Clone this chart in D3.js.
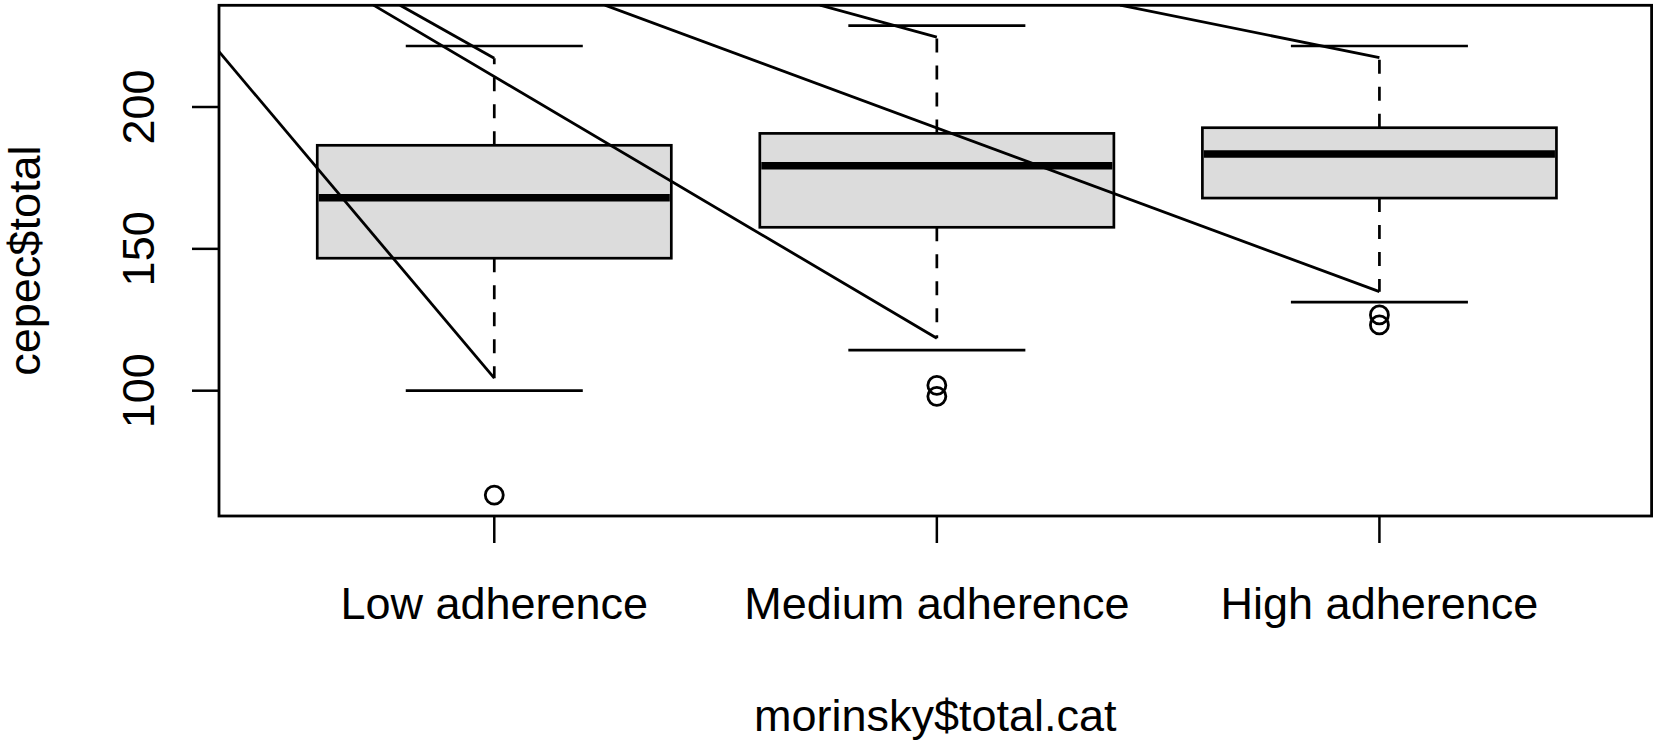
<!DOCTYPE html>
<html lang="en">
<head>
  <meta charset="utf-8" />
  <title>cepec$total by morinsky$total.cat</title>
  <script src="https://d3js.org/d3.v7.min.js"></script>
  <style>
    * { margin: 0; padding: 0; box-sizing: border-box; }
    html, body { background: #fff; width: 1658px; height: 746px; overflow: hidden; }
    svg text { font-family: "Liberation Sans", Arial, Helvetica, sans-serif; font-size: 45px; fill: #000; }
    .frame { fill: none; stroke: #000; stroke-width: 2.8px; }
    .box { fill: #dcdcdc; stroke: #000; stroke-width: 2.7px; }
    .median { stroke: #000; stroke-width: 7.5px; }
    .whisker { stroke: #000; stroke-width: 2.7px; stroke-dasharray: 14 13; }
    .cap { stroke: #000; stroke-width: 2.7px; }
    .outlier { fill: none; stroke: #000; stroke-width: 2.8px; }
    .guide { fill: none; stroke: #000; stroke-width: 2.8px; }
    .tick { stroke: #000; stroke-width: 2.5px; }
  </style>
</head>
<body>
  <svg id="chart" width="1658" height="746"></svg>
  <script>
    // values
    const categories = ["Low adherence", "Medium adherence", "High adherence"];
    const q1 = [146.7, 157.6, 167.9];
    const median = [168.0, 179.3, 183.4];
    const q3 = [186.5, 190.7, 192.7];
    const capLow = [100.0, 114.3, 131.2];
    const capHigh = [221.5, 228.7, 221.5];
    // dashed whiskers stop here, where the guide lines meet them
    const dashLow = [104.4, 118.5, 134.9];
    const dashHigh = [217.2, 224.6, 217.4];
    const outliers = [[63.2], [101.9, 98.0], [126.7, 123.2]];
    const yTicks = [100, 150, 200];

    // straight guide lines, [start, end] in (group position, value)
    const guides = [
      [[0.378, 219.5], [1, 104.4]],
      [[0.787, 235.9], [1, 217.2]],
      [[0.727, 235.9], [2, 118.5]],
      [[1.250, 235.9], [3, 134.9]],
      [[1.736, 235.9], [2, 224.6]],
      [[2.414, 235.9], [3, 217.4]]
    ];

    const m = { left: 219, right: 1651.6, top: 5.3, bottom: 516 };

    const x = d3.scaleLinear().domain([0.378, 3.615]).range([m.left, m.right]);
    const y = d3.scaleLinear().domain([55.83, 235.85]).range([m.bottom, m.top]);

    const svg = d3.select("#chart");

    svg.append("clipPath").attr("id", "plotclip")
      .append("rect")
      .attr("x", m.left).attr("y", m.top)
      .attr("width", m.right - m.left).attr("height", m.bottom - m.top);

    const plot = svg.append("g").attr("clip-path", "url(#plotclip)");

    const boxW = 0.8, capW = 0.4;
    const idx = categories.map((d, i) => i);

    // boxes
    plot.selectAll(".box").data(idx).join("rect")
      .attr("class", "box")
      .attr("x", i => x(i + 1 - boxW / 2))
      .attr("width", x(1 + boxW / 2) - x(1 - boxW / 2))
      .attr("y", i => y(q3[i]))
      .attr("height", i => y(q1[i]) - y(q3[i]));

    plot.selectAll(".median").data(idx).join("line")
      .attr("class", "median")
      .attr("x1", i => x(i + 1 - boxW / 2) + 1.5)
      .attr("x2", i => x(i + 1 + boxW / 2) - 1.5)
      .attr("y1", i => y(median[i]))
      .attr("y2", i => y(median[i]));

    // whiskers (dashed), drawn from the box edge outwards
    idx.forEach(i => {
      plot.append("line").attr("class", "whisker")
        .attr("x1", x(i + 1)).attr("x2", x(i + 1))
        .attr("y1", y(q1[i])).attr("y2", y(dashLow[i]));
      plot.append("line").attr("class", "whisker")
        .attr("x1", x(i + 1)).attr("x2", x(i + 1))
        .attr("y1", y(q3[i])).attr("y2", y(dashHigh[i]));
      [capLow[i], capHigh[i]].forEach(v => {
        plot.append("line").attr("class", "cap")
          .attr("x1", x(i + 1 - capW / 2)).attr("x2", x(i + 1 + capW / 2))
          .attr("y1", y(v)).attr("y2", y(v));
      });
      outliers[i].forEach(v => {
        plot.append("circle").attr("class", "outlier")
          .attr("cx", x(i + 1)).attr("cy", y(v)).attr("r", 9);
      });
    });

    // guide lines, clipped to the plot region
    plot.selectAll(".guide").data(guides).join("path")
      .attr("class", "guide")
      .attr("d", d3.line().x(d => x(d[0])).y(d => y(d[1])));

    // frame
    svg.append("rect").attr("class", "frame")
      .attr("x", m.left).attr("y", m.top)
      .attr("width", m.right - m.left).attr("height", m.bottom - m.top);

    // y axis
    const yAxis = svg.append("g");
    yAxis.selectAll("line").data(yTicks).join("line")
      .attr("class", "tick")
      .attr("x1", m.left - 27).attr("x2", m.left)
      .attr("y1", d => y(d)).attr("y2", d => y(d));
    yAxis.selectAll("text").data(yTicks).join("text")
      .attr("transform", d => `translate(154,${y(d)}) rotate(-90)`)
      .attr("text-anchor", "middle")
      .text(d => d);

    // x axis
    const xAxis = svg.append("g");
    xAxis.selectAll("line").data(idx).join("line")
      .attr("class", "tick")
      .attr("x1", i => x(i + 1)).attr("x2", i => x(i + 1))
      .attr("y1", m.bottom).attr("y2", m.bottom + 27);
    xAxis.selectAll("text").data(idx).join("text")
      .attr("x", i => x(i + 1)).attr("y", 619)
      .attr("text-anchor", "middle")
      .text(i => categories[i]);

    // titles
    svg.append("text")
      .attr("x", (m.left + m.right) / 2).attr("y", 731)
      .attr("text-anchor", "middle")
      .text("morinsky$total.cat");
    svg.append("text")
      .attr("transform", `translate(40,${(m.top + m.bottom) / 2}) rotate(-90)`)
      .attr("text-anchor", "middle")
      .text("cepec$total");
  </script>
</body>
</html>
